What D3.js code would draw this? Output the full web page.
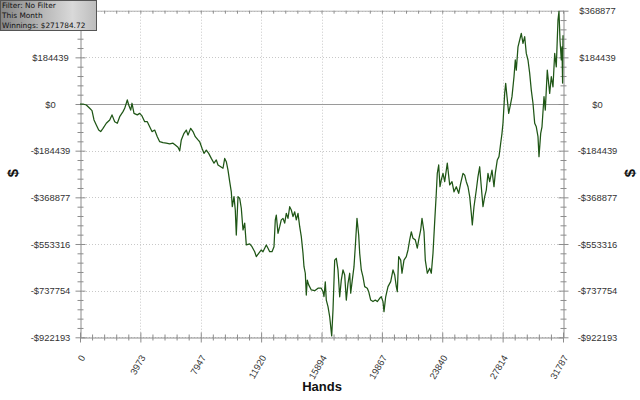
<!DOCTYPE html>
<html><head><meta charset="utf-8">
<script src="https://cdn.jsdelivr.net/npm/d3@7"></script>
<style>body{margin:0;background:#fff}svg{display:block}</style>
</head><body>
<svg width="640" height="400"></svg>
<script>
const hands = [0,197,415,638,790,921,1073,1231,1362,1514,1731,1955,2106,2284,2455,2613,2830,2942,3113,3205,3337,3422,3554,3771,3929,4080,4258,4429,4587,4738,4916,5087,5245,5462,5679,5903,6120,6272,6449,6561,6667,6844,6996,7107,7285,7437,7588,7766,7877,8029,8160,8312,8470,8641,8819,8970,9082,9260,9411,9523,9628,9740,9852,9957,10023,10135,10220,10286,10398,10510,10615,10727,10839,10944,11168,11319,11497,11602,11760,11931,12043,12155,12260,12372,12484,12636,12767,12853,12919,13030,13142,13247,13359,13471,13576,13688,13800,13906,14018,14130,14235,14347,14459,14564,14676,14741,14827,14893,14959,15051,15222,15446,15663,15880,15992,16058,16143,16209,16321,16433,16564,16650,16762,16867,16979,17091,17196,17308,17420,17525,17637,17749,17815,17920,18032,18117,18229,18341,18407,18512,18624,18736,18907,18999,19131,19282,19434,19565,19723,19829,19940,20006,20118,20270,20448,20599,20711,20816,20882,20974,21106,21191,21322,21474,21586,21698,21803,21915,22067,22198,22291,22422,22508,22639,22725,22857,23014,23120,23231,23343,23448,23514,23606,23692,23778,23890,24001,24173,24331,24482,24614,24765,24923,25055,25206,25318,25423,25535,25647,25752,25818,25929,26081,26192,26304,26409,26521,26633,26739,26850,26962,27114,27245,27331,27463,27574,27686,27772,27837,27949,28015,28101,28213,28345,28430,28562,28647,28713,28825,28937,29042,29154,29266,29371,29483,29595,29700,29812,29924,30029,30141,30207,30319,30404,30536,30622,30753,30911,31016,31128,31240,31345,31457,31523,31589,31675,31720,31760,31787];
const winnings = [0,0,-4000,-17000,-26000,-63000,-83000,-103000,-109000,-96000,-76000,-63000,-43000,-70000,-76000,-50000,-30000,-17000,16000,-4000,-24000,3000,-37000,-43000,-37000,-47000,-70000,-70000,-90000,-109000,-103000,-129000,-149000,-153000,-155000,-158000,-155000,-162000,-171000,-185000,-142000,-116000,-103000,-123000,-96000,-109000,-129000,-142000,-149000,-175000,-195000,-182000,-195000,-215000,-234000,-221000,-241000,-248000,-254000,-215000,-228000,-261000,-307000,-347000,-406000,-366000,-419000,-518000,-366000,-373000,-412000,-498000,-471000,-557000,-553000,-564000,-584000,-603000,-590000,-577000,-584000,-570000,-557000,-570000,-584000,-584000,-564000,-458000,-439000,-511000,-485000,-458000,-452000,-471000,-432000,-452000,-406000,-419000,-445000,-426000,-458000,-432000,-485000,-524000,-590000,-643000,-669000,-755000,-696000,-715000,-735000,-738000,-728000,-728000,-742000,-761000,-703000,-775000,-801000,-841000,-917000,-814000,-617000,-610000,-656000,-762000,-696000,-656000,-676000,-775000,-709000,-669000,-748000,-696000,-643000,-564000,-452000,-518000,-590000,-656000,-683000,-722000,-728000,-742000,-775000,-781000,-775000,-781000,-768000,-762000,-781000,-821000,-762000,-722000,-702000,-656000,-676000,-722000,-742000,-603000,-617000,-669000,-617000,-603000,-577000,-537000,-505000,-531000,-537000,-570000,-537000,-498000,-452000,-505000,-617000,-669000,-649000,-669000,-590000,-465000,-353000,-274000,-241000,-327000,-300000,-274000,-307000,-234000,-320000,-307000,-347000,-327000,-353000,-313000,-274000,-281000,-307000,-327000,-366000,-432000,-478000,-406000,-340000,-287000,-248000,-327000,-406000,-366000,-340000,-274000,-307000,-261000,-327000,-274000,-221000,-208000,-155000,-116000,-76000,42000,82000,29000,-37000,3000,29000,108000,174000,134000,226000,253000,279000,240000,266000,200000,174000,121000,55000,3000,-76000,-90000,-129000,-208000,-116000,-90000,29000,-24000,134000,42000,108000,68000,200000,147000,332000,366000,253000,174000,226000,83000,271784.72];
const xTickValues = [0,3973,7947,11920,15894,19867,23840,27814,31787];
const yTickValues = [-922193,-737754,-553316,-368877,-184439,0,184439,368877];
const yTickLabels = ["-$922193","-$737754","-$553316","-$368877","-$184439","$0","$184439","$368877"];
const legendLines = ["Filter: No Filter","This Month","Winnings: $271784.72"];
const xTitle = "Hands", yTitle = "$";

const svg = d3.select("svg");
const L = 80, R = 563, T = 10.7, B = 337.3;
const x = d3.scaleLinear().domain([0, 31787]).range([L, R]);
const y = d3.scaleLinear().domain([-922193, 368877]).range([B, T]);

const xMinor = d3.range(41).map(i => 31787 * i / 40).filter((d,i) => i % 5 !== 0);
const yMinor = d3.range(36).map(i => -922193 + (368877 + 922193) * i / 35).filter((d,i) => i % 5 !== 0);

const grid = svg.append("g").attr("stroke", "#c8c8c8").attr("stroke-dasharray", "1,2").attr("stroke-width", 1);
grid.selectAll(".vg").data(xTickValues.slice(1, -1)).join("line")
  .attr("x1", d => Math.round(x(d)) + 0.5).attr("x2", d => Math.round(x(d)) + 0.5).attr("y1", T).attr("y2", B);
grid.selectAll(".hg").data(yTickValues.filter(d => d !== 0)).join("line")
  .attr("x1", L).attr("x2", R).attr("y1", d => Math.round(y(d)) + 0.5).attr("y2", d => Math.round(y(d)) + 0.5);

svg.append("line").attr("x1", L).attr("x2", R)
  .attr("y1", Math.round(y(0)) + 0.5).attr("y2", Math.round(y(0)) + 0.5)
  .attr("stroke", "#9a9a9a").attr("stroke-width", 1);

const fontAx = "'Liberation Sans', Arial, sans-serif";
const yLabel = d => yTickLabels[yTickValues.indexOf(d)];

function styleAxis(g) {
  g.select(".domain").attr("stroke", "#8c8c8c");
  g.selectAll(".tick line").attr("stroke", "#8c8c8c");
  g.selectAll("text").attr("fill", "#333").style("font-family", fontAx).style("font-size", "9.4px");
}

const gl = svg.append("g").attr("transform", `translate(${L + 0.5},0)`)
  .call(d3.axisLeft(y).tickValues(yTickValues).tickFormat(yLabel).tickSizeOuter(0));
gl.selectAll(".tick line").attr("x1", 5).attr("x2", -5);
gl.selectAll(".tick text").attr("x", -30).attr("text-anchor", "middle");
styleAxis(gl);
const glm = svg.append("g").attr("transform", `translate(${L + 0.5},0)`)
  .call(d3.axisLeft(y).tickValues(yMinor).tickFormat("").tickSizeOuter(0));
glm.select(".domain").remove();
glm.selectAll(".tick line").attr("x1", 3).attr("x2", -3);
styleAxis(glm);

const gr = svg.append("g").attr("transform", `translate(${R + 0.5},0)`)
  .call(d3.axisRight(y).tickValues(yTickValues).tickFormat(yLabel).tickSizeOuter(0));
gr.selectAll(".tick line").attr("x1", -5).attr("x2", 5);
gr.selectAll(".tick text").attr("x", 34).attr("text-anchor", "middle");
styleAxis(gr);
const grm = svg.append("g").attr("transform", `translate(${R + 0.5},0)`)
  .call(d3.axisRight(y).tickValues(yMinor).tickFormat("").tickSizeOuter(0));
grm.select(".domain").remove();
grm.selectAll(".tick line").attr("x1", -3).attr("x2", 3);
styleAxis(grm);

const gb = svg.append("g").attr("transform", `translate(0,${B + 0.2})`)
  .call(d3.axisBottom(x).tickValues(xTickValues).tickFormat(d => String(d)).tickSizeOuter(0));
gb.selectAll(".tick line").attr("y1", -5).attr("y2", 5);
gb.selectAll(".tick text").attr("x", 0).attr("y", 0).attr("dy", null)
  .attr("text-anchor", "end").attr("transform", "translate(5,20) rotate(-60)");
styleAxis(gb);
const gbm = svg.append("g").attr("transform", `translate(0,${B + 0.2})`)
  .call(d3.axisBottom(x).tickValues(xMinor).tickFormat("").tickSizeOuter(0));
gbm.select(".domain").remove();
gbm.selectAll(".tick line").attr("y1", -3).attr("y2", 3);
styleAxis(gbm);

const gt = svg.append("g").attr("transform", `translate(0,${T})`)
  .call(d3.axisTop(x).tickValues(xMinor.concat(xTickValues)).tickFormat("").tickSizeOuter(0));
gt.select(".domain").attr("stroke", "#b0b0b0");
gt.selectAll(".tick line").attr("y1", 0).attr("y2", 3).attr("stroke", "#8c8c8c");

const pts = hands.map((h, i) => [h, winnings[i]]);
svg.append("path").datum(pts)
  .attr("fill", "none").attr("stroke", "#1f5616").attr("stroke-width", 1.25)
  .attr("stroke-linejoin", "round")
  .attr("d", d3.line().x(d => x(d[0])).y(d => y(d[1])));

svg.append("text").attr("x", (L + R) / 2 + 0.5).attr("y", 391).attr("text-anchor", "middle")
  .style("font-family", fontAx).style("font-size", "13px").style("font-weight", "bold").attr("fill", "#111").text(xTitle);
svg.append("text").attr("transform", "translate(18,173) rotate(-90)").attr("text-anchor", "middle")
  .style("font-family", fontAx).style("font-size", "15px").style("font-weight", "bold").attr("fill", "#111").text(yTitle);
svg.append("text").attr("transform", "translate(635,173) rotate(-90)").attr("text-anchor", "middle")
  .style("font-family", fontAx).style("font-size", "15px").style("font-weight", "bold").attr("fill", "#111").text(yTitle);

const defs = svg.append("defs");
const grad = defs.append("linearGradient").attr("id", "lg").attr("x1", "0").attr("x2", "1").attr("y1", "0").attr("y2", "0");
grad.append("stop").attr("offset", "0").attr("stop-color", "#868686");
grad.append("stop").attr("offset", "0.75").attr("stop-color", "#d9d9d9");
grad.append("stop").attr("offset", "1").attr("stop-color", "#bcbcbc");
svg.append("rect").attr("x", 0.5).attr("y", 0.5).attr("width", 96).attr("height", 30)
  .attr("fill", "url(#lg)").attr("stroke", "#555");
svg.append("g").selectAll("text").data(legendLines).join("text")
  .attr("x", 2).attr("y", (d, i) => 7.6 + i * 10.2)
  .style("font-family", "'DejaVu Sans', Verdana, sans-serif").style("font-size", "7.4px")
  .attr("fill", "#111").text(d => d);
</script>
</body></html>
